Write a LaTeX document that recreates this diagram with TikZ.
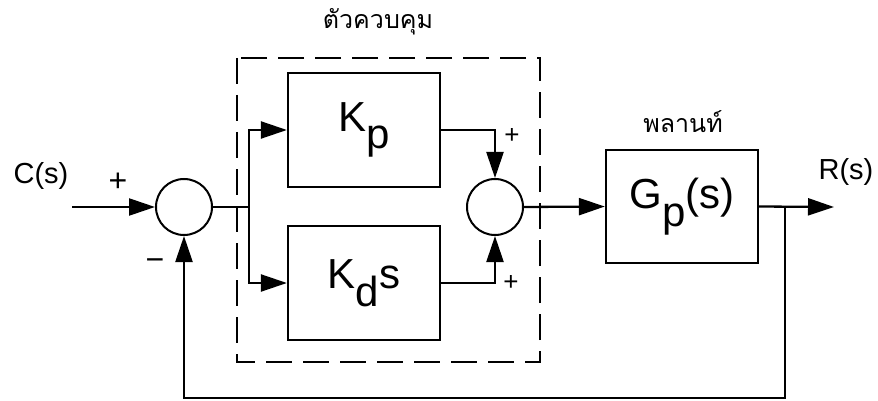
\documentclass[tikz,border=0pt]{standalone}
\usepackage{fontspec}
\setmainfont{Liberation Sans}
\newfontfamily\thaifont[Script=Thai]{Loma}
\usetikzlibrary{arrows.meta}
\begin{document}
\begin{tikzpicture}[x=1pt,y=-1pt,line width=2.3pt,
  sumnode/.style={draw,circle,minimum size=56pt,inner sep=0pt,line width=2pt},
  blk/.style={draw,rectangle,minimum width=152pt,minimum height=114pt,inner sep=0pt,line width=2.3pt,font=\fontsize{42}{46}\selectfont},
  arr/.style={-{Triangle[length=26pt,width=17pt]}},
  lbl/.style={inner sep=0pt,font=\fontsize{29}{32}\selectfont},
  sgn/.style={inner sep=0pt,font=\fontsize{32}{34}\selectfont},
  sgns/.style={inner sep=0pt,font=\fontsize{26}{28}\selectfont},
  thai/.style={inner sep=0pt,font=\thaifont\fontsize{25}{30}\selectfont}]
\useasboundingbox (0,0) rectangle (878,401);
% dashed controller box
\draw[line width=2pt,dash pattern=on 26pt off 11pt] (237,58) rectangle (540,362);
% nodes
\node[sumnode] (s1) at (184,207) {};
\node[sumnode] (s2) at (495,207) {};
\node[blk] (kp) at (364,130) {\raisebox{0.12em}{K}\raisebox{-0.3em}{p}};
\node[blk] (kd) at (364,283) {K\raisebox{-0.42em}{d}s};
\node[blk,minimum height=113pt] (gp) at (682,206.5) {G\raisebox{-0.42em}{p}(s)};
\coordinate (in) at (72,207);
\coordinate (br) at (249,207);
\coordinate (fb) at (785,207);
\coordinate (out) at (834,207);
\coordinate (bl) at (184,398);
\coordinate (brr) at (785,398);
% connectors
\draw[arr] (in) -- (s1.west);
\draw (s1.east) -- (br);
\draw[arr] (br) |- (kp.west);
\draw[arr] (br) |- (kd.west);
\draw[arr] (kp.east) -| (s2.north);
\draw[arr] (kd.east) -| (s2.south);
\draw[arr] (s2.east) -- (gp.west);
\draw[arr] (gp.east) -- (out);
\draw[arr] (fb) -- (brr) -- (bl) -- (s1.south);
% labels
\node[lbl] (cs) at (41,176) {C(s)};
\node[lbl] (rs) at (846,172) {R(s)};
\node[sgn] (p1) at (118,182) {+};
\node[sgn] (m1) at (155,265) {−};
\node[sgns] (p2) at (512,136) {+};
\node[sgns] (p3) at (511,283) {+};
\node[thai] (ctl) at (378,22) {ตัวควบคุม};
\node[thai] (plt) at (683,122) {พลานท์};
\end{tikzpicture}
\end{document}
